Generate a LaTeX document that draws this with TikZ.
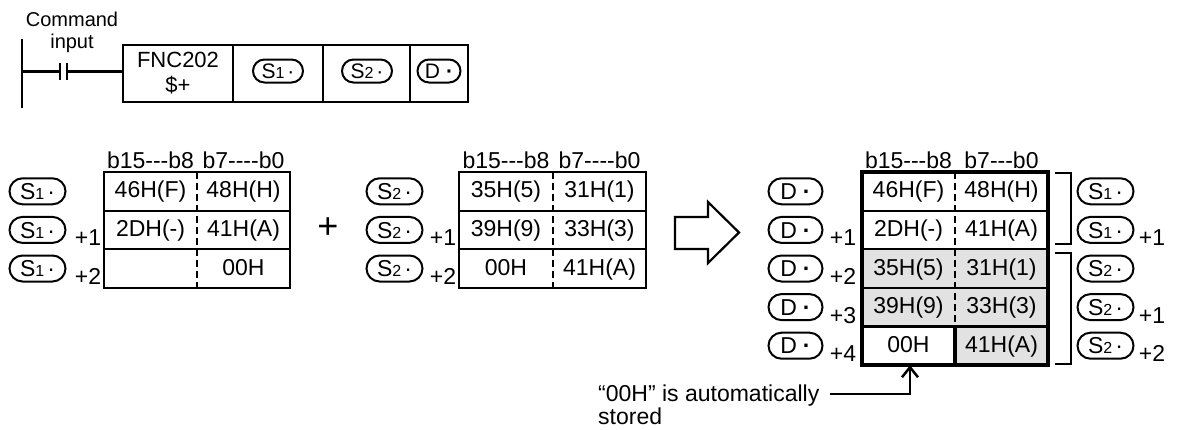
\documentclass[tikz,border=0pt]{standalone}
\usepackage{fontspec}
\setmainfont{Liberation Sans}
\usetikzlibrary{arrows.meta}
\definecolor{cellgray}{RGB}{226,226,226}
\newcommand\Sone{S{\fontsize{16}{16}\selectfont 1}\hspace{3pt}·}
\newcommand\Stwo{S{\fontsize{16}{16}\selectfont 2}\hspace{3pt}·}
\newcommand\Dlab{D\hspace{6pt}{\bfseries ·}}
\newcommand\hy{-\kern0pt}
\begin{document}
\begin{tikzpicture}[x=1pt,y=-1pt,
  pill/.style={draw, line width=2pt, rounded corners=13pt, minimum width=56pt, minimum height=26pt,
    inner sep=0pt, font=\fontsize{23}{23}\selectfont, text height=16.5pt, text depth=0pt},
  dpill/.style={pill, minimum width=54pt},
  lpill/.style={pill, minimum width=50pt, minimum height=23pt, rounded corners=11.5pt,
    font=\fontsize{21}{21}\selectfont, text height=15pt},
  ldpill/.style={lpill, minimum width=43pt},
  cell/.style={minimum width=93pt, minimum height=38.6pt, inner sep=0pt,
    font=\fontsize{23}{23}\selectfont, text height=17pt, text depth=4pt},
  txt/.style={font=\fontsize{23}{23}\selectfont, inner sep=0pt, anchor=base},
  tline/.style={line width=2.2pt},
  thick border/.style={line width=4pt},
  divdash/.style={line width=2.2pt, dash pattern=on 7pt off 4pt},
  ladder/.style={line width=2.2pt},
  lcell/.style={draw, line width=2.2pt, minimum height=57pt, inner sep=0pt},
]
\useasboundingbox (0,0) rectangle (1180,429);

% ---------------- ladder ----------------
\node[font=\fontsize{20}{22}\selectfont, align=center, inner sep=0pt] (cmd) at (72,32) {Command\\input};
\coordinate (railT) at (22,39);
\coordinate (railB) at (22,108);
\draw[ladder] (railT) -- (railB);
\coordinate (cL) at (60,71.5);
\coordinate (cR) at (67,71.5);
\draw[ladder] (22,71.5) -- (cL);
\draw[ladder] (60,63) -- (60,80);
\draw[ladder] (67,63) -- (67,80);
\node[lcell, minimum width=110pt, align=center, font=\fontsize{22}{25}\selectfont] (fnc) at (178,73.5) {FNC202\\\$+};
\node[lcell, minimum width=90pt] (cs1) at (278,73.5) {};
\node[lcell, minimum width=87pt] (cs2) at (366.5,73.5) {};
\node[lcell, minimum width=58pt] (cd) at (439,73.5) {};
\draw[ladder] (cR) -- (cR -| fnc.west);
\node[lpill] (ls1) at (278,71) {\Sone};
\node[lpill] (ls2) at (367,71) {\Stwo};
\node[ldpill] (ld) at (439,71) {\Dlab};

% ---------------- left table (S1) ----------------
\node[txt] (hL1) at (150.5,168) {b15\hy\hy\hy b8};
\node[txt] (hL2) at (243.5,168) {b7\hy\hy\hy\hy b0};
\foreach \r/\a/\b in {1/46H(F)/48H(H), 2/2DH(-)/41H(A), 3//00H}{
  \node[cell] (L\r a) at (150.5,{172+(\r-0.5)*38.6}) {\a};
  \node[cell] (L\r b) at (243.5,{172+(\r-0.5)*38.6}) {\b};
  \node[pill] (Ls\r) at (37.5,{172+(\r-0.5)*38.6}) {\Sone};
}
\node[txt] (Lp1) at (88,{172+1.5*38.6+16}) {+1};
\node[txt] (Lp2) at (88,{172+2.5*38.6+16}) {+2};
\draw[tline] (104,172) rectangle (290,287.8);
\draw[tline] (104,210.6) -- (290,210.6) (104,249.2) -- (290,249.2);
\draw[divdash] (197,172) -- (197,287.8);

% plus sign
\node[font=\fontsize{36}{36}\selectfont, inner sep=0pt] (plus) at (328,228) {+};

% ---------------- middle table (S2) ----------------
\node[txt] (hM1) at (506,168) {b15\hy\hy\hy b8};
\node[txt] (hM2) at (599.5,168) {b7\hy\hy\hy\hy b0};
\foreach \r/\a/\b in {1/35H(5)/31H(1), 2/39H(9)/33H(3), 3/00H/41H(A)}{
  \node[cell] (M\r a) at (506,{172+(\r-0.5)*38.6}) {\a};
  \node[cell] (M\r b) at (599.5,{172+(\r-0.5)*38.6}) {\b};
  \node[pill] (Ms\r) at (394.5,{172+(\r-0.5)*38.6}) {\Stwo};
}
\node[txt] (Mp1) at (443,{172+1.5*38.6+16}) {+1};
\node[txt] (Mp2) at (443,{172+2.5*38.6+16}) {+2};
\draw[tline] (459,172) rectangle (646,287.8);
\draw[tline] (459,210.6) -- (646,210.6) (459,249.2) -- (646,249.2);
\draw[divdash] (553,172) -- (553,287.8);

% big hollow arrow
\draw[line width=2.2pt, line join=miter] (675,217) -- (708,217) -- (708,202) -- (739,232.5)
  -- (708,263) -- (708,249) -- (675,249) -- cycle;

% ---------------- result table (D) ----------------
\fill[cellgray] (862,249.2) rectangle (1048,326.4);
\fill[cellgray] (955,326.4) rectangle (1048,365);
\node[txt] (hD1) at (908.5,168) {b15\hy\hy\hy b8};
\node[txt] (hD2) at (1001.5,168) {b7\hy\hy\hy b0};
\foreach \r/\a/\b in {1/46H(F)/48H(H), 2/2DH(-)/41H(A), 3/35H(5)/31H(1), 4/39H(9)/33H(3), 5/00H/41H(A)}{
  \node[cell] (D\r a) at (908.5,{172+(\r-0.5)*38.6}) {\a};
  \node[cell] (D\r b) at (1001.5,{172+(\r-0.5)*38.6}) {\b};
  \node[dpill] (Ds\r) at (795.5,{172+(\r-0.5)*38.6}) {\Dlab};
}
\foreach \r/\n in {2/1, 3/2, 4/3, 5/4}{
  \node[txt] (Dp\r) at (843,{172+(\r-0.5)*38.6+16}) {+\n};
}
\draw[tline] (862,210.6) -- (1048,210.6) (862,249.2) -- (1048,249.2)
  (862,287.8) -- (1048,287.8) (862,326.4) -- (1048,326.4);
\draw[divdash] (955,172) -- (955,326.4);
\draw[thick border] (955,326.4) -- (955,365);
\draw[thick border] (862,172) rectangle (1048,365);

% brackets
\draw[line width=2.5pt] (1055,173) -- (1071,173) -- (1071,244) -- (1055,244);
\draw[line width=2.5pt] (1055,253) -- (1071,253) -- (1071,364) -- (1055,364);

% right labels
\node[pill] (R1) at (1105.5,{172+0.5*38.6}) {\Sone};
\node[pill] (R2) at (1105.5,{172+1.5*38.6}) {\Sone};
\node[pill] (R3) at (1105.5,{172+2.5*38.6}) {\Stwo};
\node[pill] (R4) at (1105.5,{172+3.5*38.6}) {\Stwo};
\node[pill] (R5) at (1105.5,{172+4.5*38.6}) {\Stwo};
\node[txt] (Rp2) at (1152,{172+1.5*38.6+16}) {+1};
\node[txt] (Rp4) at (1152,{172+3.5*38.6+16}) {+1};
\node[txt] (Rp5) at (1152,{172+4.5*38.6+16}) {+2};

% note
\node[font=\fontsize{23}{20}\selectfont, align=left, anchor=north west, inner sep=0pt] (note) at (598,385)
  {“00H” is automatically\\stored};
\coordinate (nstart) at (830,394);
\draw[line width=2.5pt, -{Straight Barb[length=10pt,width=16pt]}] (nstart) -| ([xshift=1.5pt]D5a.south);
\end{tikzpicture}
\end{document}
